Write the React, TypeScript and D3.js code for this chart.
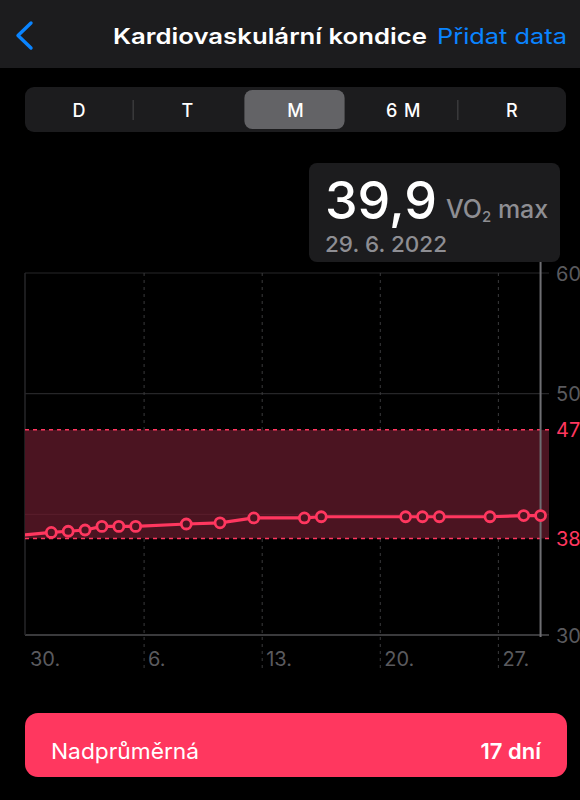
import React from "react";
import * as d3 from "d3";

// VO2 max readings (one per measured day)
const readingDates = [
  "2022-05-28", "2022-05-31", "2022-06-01", "2022-06-02", "2022-06-03", "2022-06-04",
  "2022-06-05", "2022-06-08", "2022-06-10", "2022-06-12", "2022-06-15", "2022-06-16",
  "2022-06-21", "2022-06-22", "2022-06-23", "2022-06-26", "2022-06-28", "2022-06-29",
];
const readingValues = [
  38.1, 38.5, 38.6, 38.7, 39.0, 39.0,
  39.0, 39.2, 39.3, 39.7, 39.7, 39.8,
  39.8, 39.8, 39.8, 39.8, 39.9, 39.9,
];

// Range for "Nadprůměrná"
const rangeLow = 38;
const rangeHigh = 47;

const yTicks = [30, 40, 50, 60];
const yLabels = [60, 50, 30];
const xTickDates = ["2022-05-30", "2022-06-06", "2022-06-13", "2022-06-20", "2022-06-27"];
const xTickLabels = ["30.", "6.", "13.", "20.", "27."];
const periods = ["D", "T", "M", "6 M", "R"];
const selectedPeriod = "M";

const selectedDate = "2022-06-29";
const selectedValue = 39.9;

const PINK = "#ff375f";
const BLUE = "#0a84ff";
const FONT = "Inter, 'Noto Sans', sans-serif";

const parse = (s: string) => {
  const [y, m, d] = s.split("-").map(Number);
  return new Date(y, m - 1, d);
};
const noon = (s: string) => {
  const d = parse(s);
  d.setHours(12);
  return d;
};

export default function App() {
  const left = 25;
  const right = 549;
  const top = 273;
  const bottom = 635;

  const x = d3
    .scaleTime()
    .domain([parse("2022-05-30"), parse("2022-06-30")])
    .range([26, 549]);
  const y = d3.scaleLinear().domain([30, 60]).range([bottom, top]);

  const points = readingDates.map((d, i) => ({ date: noon(d), value: readingValues[i] }));
  const inView = points.filter((p) => p.date >= x.domain()[0]);

  const line = d3
    .line<{ date: Date; value: number }>()
    .x((p) => x(p.date))
    .y((p) => y(p.value));

  const selX = x(noon(selectedDate));

  // segmented control geometry
  const segLeft = 25;
  const segRight = 566;
  const segW = (segRight - segLeft) / periods.length;
  const selIdx = periods.indexOf(selectedPeriod);

  const dateLabel = (() => {
    const d = parse(selectedDate);
    return `${d.getDate()}. ${d.getMonth() + 1}. ${d.getFullYear()}`;
  })();

  return (
    <div style={{ position: "absolute", left: 0, top: 0, width: 580, height: 800, background: "#000" }}>
      <svg width={580} height={800} style={{ display: "block" }} fontFamily={FONT}>
        <rect x={0} y={0} width={580} height={800} fill="#000" />

        {/* navigation bar */}
        <rect x={0} y={0} width={580} height={68} fill="#1c1c1e" />
        <path d="M31,23 L18,35.5 L31,48" fill="none" stroke={BLUE} strokeWidth={3.4} strokeLinecap="round" strokeLinejoin="round" />
        <text x={113} y={44} fill="#fff" fontSize={22} fontWeight={600} textLength={314} lengthAdjust="spacingAndGlyphs">
          Kardiovaskulární kondice
        </text>
        <text x={437} y={44} fill={BLUE} fontSize={22} textLength={130} lengthAdjust="spacingAndGlyphs">
          Přidat data
        </text>

        {/* period picker */}
        <rect x={segLeft} y={87} width={segRight - segLeft} height={45} rx={9} fill="#1c1c1e" />
        <rect x={segLeft + selIdx * segW + 3} y={90} width={segW - 8} height={39} rx={8} fill="#636366" />
        {periods.map((p, i) =>
          i > 0 && i !== selIdx && i !== selIdx + 1 ? (
            <line key={"sep" + p} x1={segLeft + i * segW} x2={segLeft + i * segW} y1={100} y2={120} stroke="#3a3a3c" strokeWidth={1.5} />
          ) : null
        )}
        {periods.map((p, i) => (
          <text key={p} x={segLeft + (i + 0.5) * segW} y={117} fill="#fff" fontSize={18} fontWeight={500} textAnchor="middle" letterSpacing={p.length > 1 ? 1 : 0}>
            {p}
          </text>
        ))}

        {/* grid */}
        {yTicks.map((t) => (
          <line key={"g" + t} x1={left} x2={right} y1={y(t)} y2={y(t)} stroke={t === 30 ? "#3a3a3c" : "#262628"} strokeWidth={t === 30 ? 2 : 1.2} />
        ))}
        <line x1={left} x2={left} y1={top} y2={bottom} stroke="#262628" strokeWidth={1.5} />
        {xTickDates.slice(1).map((d) => (
          <line key={"v" + d} x1={x(parse(d))} x2={x(parse(d))} y1={top} y2={668} stroke="#3a3a3c" strokeWidth={1} strokeDasharray="3,4" />
        ))}

        {/* normal range band */}
        <rect x={left} y={y(rangeHigh)} width={right - left} height={y(rangeLow) - y(rangeHigh)} fill="#4b1421" />
        <line x1={left} x2={right} y1={y(rangeHigh)} y2={y(rangeHigh)} stroke={PINK} strokeWidth={1.5} strokeDasharray="4,4" />
        <line x1={left} x2={right} y1={y(rangeLow)} y2={y(rangeLow)} stroke={PINK} strokeWidth={1.5} strokeDasharray="4,4" />
        <line x1={left} x2={right} y1={y(40)} y2={y(40)} stroke="#6a2a38" strokeWidth={1} opacity={0.5} />

        {/* y labels */}
        {yLabels.map((t) => (
          <text key={"yl" + t} x={556} y={y(t) + 7.5} fill="#5a5a5e" fontSize={20}>
            {t}
          </text>
        ))}
        {[rangeHigh, rangeLow].map((t) => (
          <text key={"yr" + t} x={556} y={y(t) + 7.5} fill={PINK} fontSize={20}>
            {t}
          </text>
        ))}

        {/* x labels */}
        {xTickDates.map((d, i) => (
          <text key={"xl" + d} x={x(parse(d)) + 4} y={666} fill="#5a5a5e" fontSize={20}>
            {xTickLabels[i]}
          </text>
        ))}

        {/* selection indicator */}
        <line x1={selX} x2={selX} y1={258} y2={637} stroke="#6e6e72" strokeWidth={2} />

        {/* readings */}
        <defs>
          <clipPath id="plotClip">
            <rect x={left} y={top - 10} width={right - left + 10} height={bottom - top + 20} />
          </clipPath>
        </defs>
        <g clipPath="url(#plotClip)">
          <path d={line(points) ?? ""} fill="none" stroke={PINK} strokeWidth={3.2} />
          {inView.map((p, i) => (
            <circle key={i} cx={x(p.date)} cy={y(p.value)} r={5} fill="#4b1421" stroke={PINK} strokeWidth={2.8} />
          ))}
        </g>

        {/* value callout */}
        <rect x={309} y={163} width={251} height={99} rx={8} fill="#1c1c1e" />
        <text x={325} y={219} fill="#fff" fontSize={52} fontWeight={500} textLength={112} lengthAdjust="spacingAndGlyphs">
          {selectedValue.toFixed(1).replace(".", ",")}
        </text>
        <text x={446} y={218} fill="#8e8e93" fontSize={25} fontWeight={500}>
          VO<tspan fontSize={15} dy={4}>2</tspan>
          <tspan dy={-4}> max</tspan>
        </text>
        <text x={325} y={252} fill="#8e8e93" fontSize={22} fontWeight={500} textLength={122} lengthAdjust="spacingAndGlyphs">
          {dateLabel}
        </text>

        {/* classification */}
        <rect x={25} y={713} width={542} height={64} rx={13} fill={PINK} />
        <text x={51} y={759} fill="#fff" fontSize={22} textLength={148} lengthAdjust="spacingAndGlyphs">
          Nadprůměrná
        </text>
        <text x={541} y={759} fill="#fff" fontSize={22} fontWeight={600} textAnchor="end">
          {inView.length} dní
        </text>
      </svg>
    </div>
  );
}
